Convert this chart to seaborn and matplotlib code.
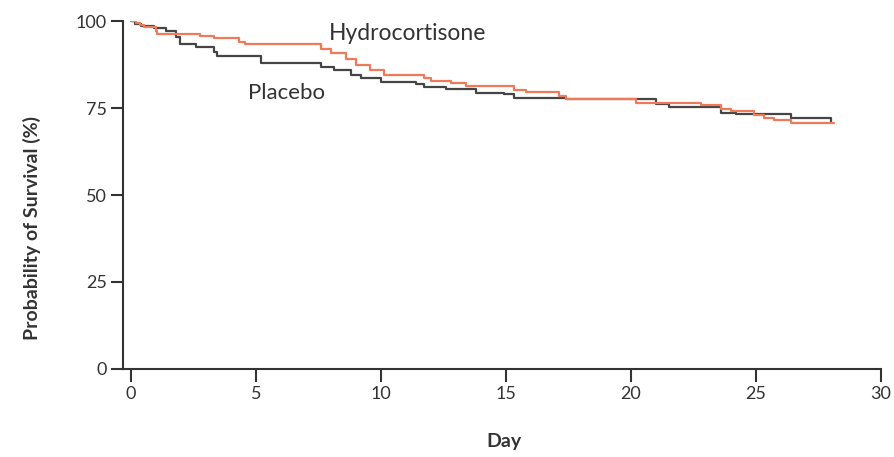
import numpy as np
import pandas as pd
import seaborn as sns
import matplotlib
matplotlib.use("Agg")
import matplotlib.pyplot as plt

# ---- data (Kaplan-Meier step values) ----
hydro_day = [0, 0.2, 0.35, 0.5, 1.0, 1.05, 2.75, 3.3, 4.3, 4.56, 7.6, 8.0, 8.6, 9.0,
             9.56, 10.1, 11.7, 12.0, 12.8, 13.4, 15.3, 15.8, 17.1, 17.4, 20.2, 22.8,
             23.6, 24.0, 24.9, 25.3, 25.7, 26.4, 28.1]
hydro_surv = [100, 99.4, 98.8, 98.3, 97.2, 96.3, 95.7, 95.0, 94.1, 93.4, 92.1, 90.7, 89.0,
              87.4, 86.0, 84.5, 83.7, 82.8, 82.1, 81.2, 80.2, 79.5, 78.4, 77.5, 76.5, 75.9,
              74.7, 74.0, 73.0, 72.2, 71.6, 70.6, 70.6]

placebo_day = [0, 0.15, 0.4, 0.9, 1.4, 1.8, 1.95, 2.6, 3.3, 3.45, 5.2, 7.6, 8.1, 8.8, 9.2,
               10.0, 11.4, 11.7, 12.6, 13.8, 14.9, 15.3, 17.4, 21.0, 21.5, 23.6, 24.2,
               26.4, 27.96, 28.0]
placebo_surv = [100, 99.2, 98.6, 97.9, 97.2, 95.5, 93.5, 92.4, 91.2, 89.9, 87.9, 86.9, 85.9,
                84.6, 83.5, 82.6, 81.9, 81.1, 80.4, 79.4, 79.0, 77.8, 77.5, 76.1, 75.2, 73.7,
                73.2, 72.0, 72.0, 71.0]

groups = ["Hydrocortisone", "Placebo"]
colors = {"Hydrocortisone": "#ee7a5a", "Placebo": "#454545"}

x_ticks = [0, 5, 10, 15, 20, 25, 30]
y_ticks = [0, 25, 50, 75, 100]

df = pd.concat([
    pd.DataFrame({"Day": hydro_day, "Survival": hydro_surv, "Group": groups[0]}),
    pd.DataFrame({"Day": placebo_day, "Survival": placebo_surv, "Group": groups[1]}),
], ignore_index=True)

sns.set_theme(style="white")
plt.rcParams["font.family"] = ["Lato", "DejaVu Sans"]

fig = plt.figure(figsize=(8.95, 4.57), dpi=100)
ax = fig.add_axes([0.1378, 0.1926, 0.8466, 0.7614])

for g in groups[::-1]:
    sub = df[df["Group"] == g]
    sns.lineplot(data=sub, x="Day", y="Survival", ax=ax, color=colors[g],
                 drawstyle="steps-post", linewidth=1.6, estimator=None,
                 sort=False, legend=False)

ax.set_xlim(-0.31, 30)
ax.set_ylim(0, 100)
ax.set_xticks(x_ticks)
ax.set_yticks(y_ticks)
ax.set_xticklabels([str(t) for t in x_ticks])
ax.set_yticklabels([str(t) for t in y_ticks])

for s in ["top", "right"]:
    ax.spines[s].set_visible(False)
for s in ["left", "bottom"]:
    ax.spines[s].set_color("#333333")
    ax.spines[s].set_linewidth(1.5)

ax.tick_params(axis="both", direction="out", length=9, width=1.5, color="#333333",
               labelsize=13, labelcolor="#333333", pad=3, left=True, bottom=True)
ax.set_xlabel("")
ax.set_ylabel("")

fig.text(0.5631, 0.035, "Day", ha="center", va="center", fontsize=14,
         fontweight="bold", color="#333333")
fig.text(0.036, 0.50, "Probability of Survival (%)", ha="center", va="center",
         rotation=90, fontsize=14, fontweight="bold", color="#333333")

ax.text(7.9, 96.5, "Hydrocortisone", ha="left", va="center", fontsize=16.5, color="#333333")
ax.text(4.68, 79.3, "Placebo", ha="left", va="center", fontsize=16, color="#333333")

fig.savefig("out.png", dpi=100)
